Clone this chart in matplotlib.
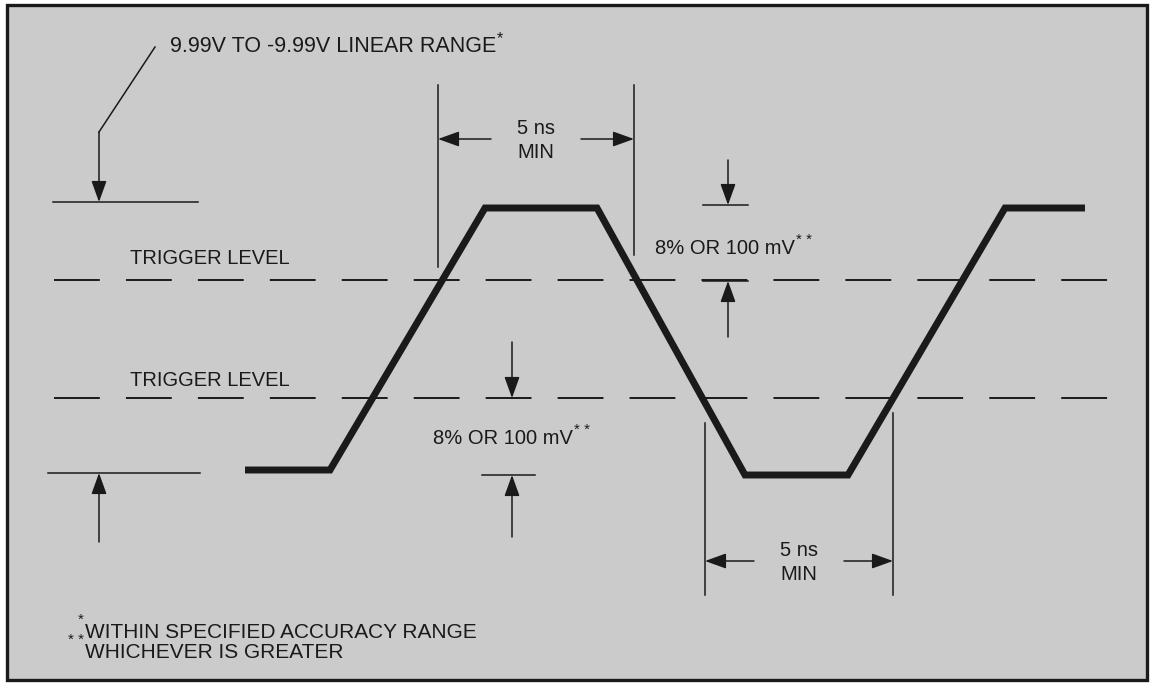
"""
Trigger timing diagram: waveform with two trigger levels,
5 ns minimum widths and 8% / 100 mV hysteresis bands.
"""

import matplotlib
matplotlib.use("Agg")
import matplotlib.pyplot as plt
from matplotlib.patches import Rectangle

plt.rcParams["font.family"] = ["Liberation Sans", "DejaVu Sans"]
plt.rcParams["lines.scale_dashes"] = False

INK = "#1a1a1a"
PAPER = "#cbcbcb"
FS = 14.5

# waveform corner points (diagram units, y grows downward)
wave_t = [245, 330, 485, 597, 745, 848, 1005, 1085]
wave_v = [470, 470, 208, 208, 475, 475, 208, 208]

# dashed trigger levels
trigger_y = [280, 398]
trigger_span = (54, 1110)
trigger_label_y = [259, 380]

# reference (range) levels on the left
range_top_y = 202
range_bot_y = 473

# 5 ns MIN markers: (left x, right x, arrow y, extension lines)
width_top = dict(x=(438, 634), y=139, ext=((85, 267), (85, 255)), text_y=(129, 152))
width_bot = dict(x=(705, 893), y=561, ext=((423, 595), (413, 595)), text_y=(551, 574))

footnotes = ["WITHIN SPECIFIED ACCURACY RANGE", "WHICHEVER IS GREATER"]
footnote_marks = ["*", "* *"]


def arrow(ax, tail, tip):
    ax.annotate("", xy=tip, xytext=tail,
                arrowprops=dict(arrowstyle="-|>,head_length=1.0,head_width=0.36",
                                mutation_scale=13, color=INK, lw=1.1,
                                shrinkA=0, shrinkB=0))


def text_with_sup(ax, fig, x, y, s, sup, fs=FS):
    t = ax.text(x, y, s, fontsize=fs, color=INK, ha="left", va="center")
    fig.canvas.draw()
    bb = t.get_window_extent()
    inv = ax.transData.inverted()
    x1, y1 = inv.transform((bb.x1, bb.y1))
    ax.text(x1 + 1, y1 + 2, sup, fontsize=fs * 0.75, color=INK, ha="left", va="center")


def main():
    fig = plt.figure(figsize=(11.5, 6.83), dpi=100)
    ax = fig.add_axes([0, 0, 1, 1])
    ax.set_xlim(0, 1150)
    ax.set_ylim(683, 0)
    ax.axis("off")

    ax.add_patch(Rectangle((7, 5), 1140, 675, facecolor=PAPER,
                           edgecolor=INK, lw=2.4, zorder=0))

    # trigger levels
    for ty, ly in zip(trigger_y, trigger_label_y):
        ax.plot(trigger_span, [ty, ty], color=INK, lw=1.4,
                linestyle=(0, (33.0, 18.8)))
        ax.text(130, ly, "TRIGGER LEVEL", fontsize=FS, color=INK, va="center")

    # waveform
    ax.plot(wave_t, wave_v, color=INK, lw=5, solid_joinstyle="miter",
            solid_capstyle="butt", zorder=5)

    # linear range reference
    ax.plot([53, 198], [range_top_y] * 2, color=INK, lw=1.1)
    ax.plot([48, 200], [range_bot_y] * 2, color=INK, lw=1.1)
    ax.plot([155, 99], [47, 132], color=INK, lw=1.1)
    arrow(ax, (99, 132), (99, range_top_y))
    arrow(ax, (99, 542), (99, range_bot_y))
    text_with_sup(ax, fig, 170, 47, "9.99V TO -9.99V LINEAR RANGE", "*", fs=15.5)

    # 5 ns MIN markers
    for w in (width_top, width_bot):
        (xl, xr), y = w["x"], w["y"]
        for x, (y0, y1) in zip((xl, xr), w["ext"]):
            ax.plot([x, x], [y0, y1], color=INK, lw=1.1)
        xm = (xl + xr) / 2
        arrow(ax, (xm - 45, y), (xl, y))
        arrow(ax, (xm + 45, y), (xr, y))
        ax.text(xm, w["text_y"][0], "5 ns", fontsize=FS, color=INK, ha="center", va="center")
        ax.text(xm, w["text_y"][1], "MIN", fontsize=FS, color=INK, ha="center", va="center")

    # upper hysteresis band
    ax.plot([703, 748], [205, 205], color=INK, lw=1.1)
    ax.plot([703, 748], [281, 281], color=INK, lw=1.1)
    arrow(ax, (728, 160), (728, 205))
    arrow(ax, (728, 337), (728, 281))
    text_with_sup(ax, fig, 655, 248, "8% OR 100 mV", "* *")

    # lower hysteresis band
    ax.plot([482, 535], [475, 475], color=INK, lw=1.1)
    arrow(ax, (512, 342), (512, 398))
    arrow(ax, (512, 537), (512, 475))
    text_with_sup(ax, fig, 433, 438, "8% OR 100 mV", "* *")

    # footnotes
    for i, (note, mark) in enumerate(zip(footnotes, footnote_marks)):
        y = 632 + 20 * i
        ax.text(85, y, note, fontsize=15, color=INK, va="center")
        ax.text(84, y - 12, mark, fontsize=11, color=INK, ha="right", va="center")

    fig.savefig("out.png", dpi=100, facecolor="white")


if __name__ == "__main__":
    main()
